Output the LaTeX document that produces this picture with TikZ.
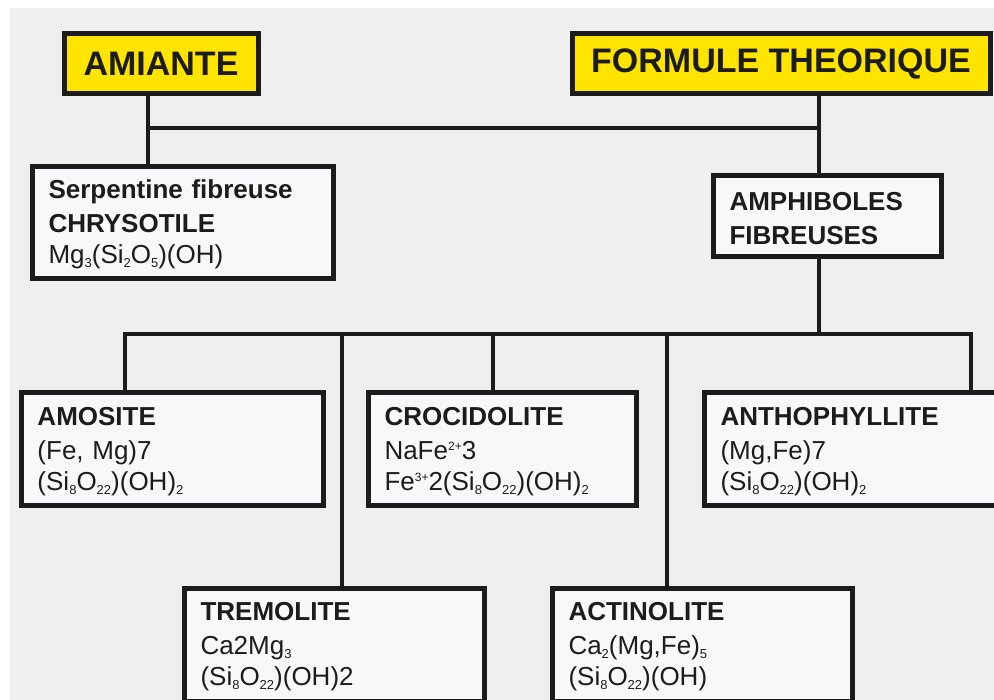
\documentclass[tikz,border=0pt]{standalone}
\usepackage{fontspec}
\setmainfont{Liberation Sans}
\definecolor{bg}{HTML}{EFEFEF}
\definecolor{boxfill}{HTML}{F7F8FA}
\definecolor{ylw}{HTML}{FFE400}
\definecolor{ink}{HTML}{1C1C1C}
\newcommand\lo[1]{\raisebox{-4pt}{\fontsize{13}{13}\selectfont #1}}
\newcommand\hi[1]{\raisebox{9pt}{\fontsize{12}{12}\selectfont #1}}
\newcommand\fl{\rule{0pt}{22pt}}
\begin{document}
\begin{tikzpicture}[x=1pt,y=-1pt,
  topbox/.style={draw=ink, line width=5pt, fill=ylw, anchor=north west, inner sep=0pt,
    text=ink, font=\fontsize{34}{40}\selectfont\bfseries},
  infobox/.style={draw=ink, line width=5pt, fill=boxfill, anchor=north west,
    inner xsep=16.5pt, inner ysep=0pt, align=left, text=ink,
    font=\fontsize{26}{31}\selectfont},
  link/.style={draw=ink, line width=4.5pt}]
\useasboundingbox (0,0) rectangle (994,700);
\fill[white] (0,0) rectangle (994,700);
\fill[bg] (10,8) rectangle (994,700);

% top level
\node[topbox, minimum width=194pt, minimum height=60pt] (amiante) at (61.5,31.5) {AMIANTE};
\node[topbox, minimum width=418pt, minimum height=60pt] (formule) at (569.5,31.5) {FORMULE THEORIQUE};

% second level
\node[infobox, minimum width=301pt, minimum height=112pt, text width=268pt] (serp) at (29.5,164.5)
  {\fl\textbf{Serpentine fibreuse}\\[3pt]\textbf{CHRYSOTILE}\\Mg\lo{3}(Si\lo{2}O\lo{5})(OH)};
\node[infobox, minimum width=228pt, minimum height=81pt, text width=195pt] (amph) at (710.5,173.5)
  {\fl\textbf{AMPHIBOLES}\\[3pt]\textbf{FIBREUSES}};

% third level
\node[infobox, minimum width=302pt, minimum height=113pt, text width=269pt] (amosite) at (18.5,390.5)
  {\fl\textbf{AMOSITE}\\[3pt](Fe, Mg)7\\(Si\lo{8}O\lo{22})(OH)\lo{2}};
\node[infobox, minimum width=268pt, minimum height=113pt, text width=235pt] (croc) at (365.5,390.5)
  {\fl\textbf{CROCIDOLITE}\\[3pt]NaFe\hi{2+}3\\Fe\hi{3+}2(Si\lo{8}O\lo{22})(OH)\lo{2}};
\node[infobox, minimum width=320pt, minimum height=113pt, text width=287pt] (antho) at (701.5,390.5)
  {\fl\textbf{ANTHOPHYLLITE}\\[3pt](Mg,Fe)7\\(Si\lo{8}O\lo{22})(OH)\lo{2}};
\node[infobox, minimum width=300pt, minimum height=113pt, text width=267pt] (trem) at (181.5,585.5)
  {\fl\textbf{TREMOLITE}\\[3pt]Ca2Mg\lo{3}\\(Si\lo{8}O\lo{22})(OH)2};
\node[infobox, minimum width=300pt, minimum height=113pt, text width=267pt] (actin) at (549.5,585.5)
  {\fl\textbf{ACTINOLITE}\\[3pt]Ca\lo{2}(Mg,Fe)\lo{5}\\(Si\lo{8}O\lo{22})(OH)};

% junction points
\coordinate (h1) at (148,128);
\coordinate (h2) at (819,128);
\coordinate (ca) at (125,334);
\coordinate (ct) at (342,334);
\coordinate (cc) at (493,334);
\coordinate (cx) at (667,334);
\coordinate (cm) at (819,334);
\coordinate (cn) at (971,334);

% connectors
\draw[link] (amiante.south -| h1) -- (serp.north -| h1);
\draw[link] (h1) -- (h2);
\draw[link] (formule.south -| h2) -- (amph.north -| h2);
\draw[link] (amph.south -| cm) -- (cm);
\draw[link] (amosite.north -| ca) -- (ca) -- (cn) -- (antho.north -| cn);
\draw[link] (ct) -- (trem.north -| ct);
\draw[link] (cc) -- (croc.north -| cc);
\draw[link] (cx) -- (actin.north -| cx);
\end{tikzpicture}
\end{document}
